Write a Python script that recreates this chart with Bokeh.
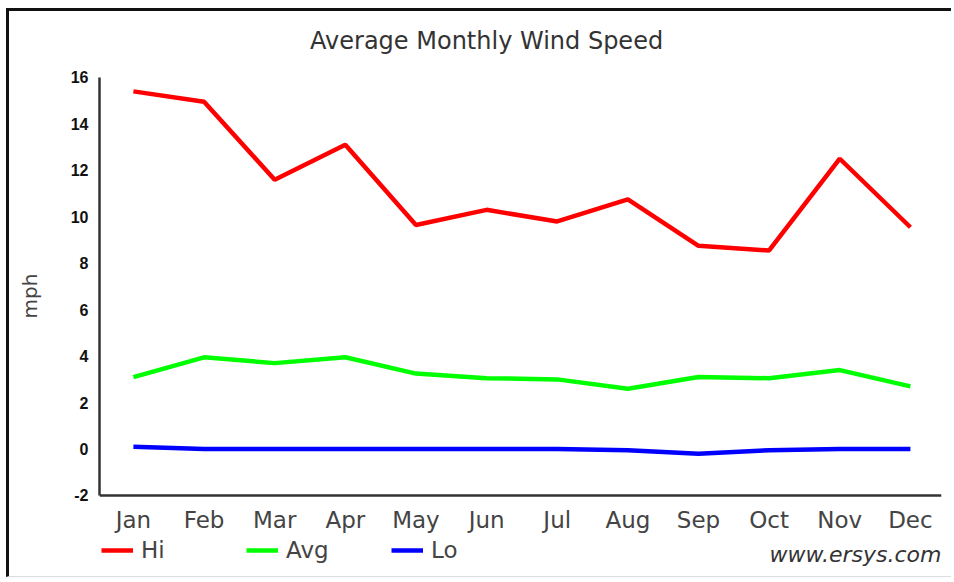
from bokeh.plotting import figure
from bokeh.models import Range1d, FixedTicker, Legend, LegendItem, Label
from bokeh.embed import file_html
from bokeh.resources import INLINE

title_text = "Average Monthly Wind Speed"
months = ["Jan", "Feb", "Mar", "Apr", "May", "Jun", "Jul", "Aug", "Sep", "Oct", "Nov", "Dec"]
hi = [15.4, 14.95, 11.6, 13.1, 9.65, 10.3, 9.8, 10.75, 8.75, 8.55, 12.5, 9.55]
avg = [3.1, 3.95, 3.7, 3.95, 3.25, 3.05, 3.0, 2.6, 3.1, 3.05, 3.4, 2.7]
lo = [0.1, 0.0, 0.0, 0.0, 0.0, 0.0, 0.0, -0.05, -0.2, -0.05, 0.0, 0.0]
y_ticks = [-2, 0, 2, 4, 6, 8, 10, 12, 14, 16]
y_tick_labels = {v: str(v) for v in y_ticks}

x = list(range(len(months)))

p = figure(width=945, height=569, output_backend="svg", toolbar_location=None,
           x_range=Range1d(-0.48, 11.44), y_range=Range1d(-5.66, 18.84),
           min_border_left=90, min_border_right=13, min_border_top=0, min_border_bottom=0)
p.styles = {"position": "relative", "left": "6px", "top": "8px",
            "border-left": "3px solid #111111", "border-top": "3px solid #111111",
            "border-bottom": "1px solid #dddddd"}
p.outline_line_color = None
p.grid.visible = False
p.background_fill_color = "white"
p.border_fill_color = "white"

r_hi = p.line(x, hi, line_color="#ff0000", line_width=4.5)
r_avg = p.line(x, avg, line_color="#00ff00", line_width=4.5)
r_lo = p.line(x, lo, line_color="#0000ff", line_width=4.5)

xa = p.xaxis[0]
xa.fixed_location = -2
xa.ticker = FixedTicker(ticks=x)
xa.major_label_overrides = {i: m for i, m in enumerate(months)}
xa.major_tick_line_color = None
xa.minor_tick_line_color = None
xa.major_tick_out = 0
xa.major_label_standoff = 12
xa.axis_line_color = "#333333"
xa.axis_line_width = 2.5
xa.major_label_text_font = "DejaVu Sans"
xa.major_label_text_font_size = "23px"
xa.major_label_text_color = "#444444"

ya = p.yaxis[0]
ya.bounds = (-2, 16)
ya.ticker = FixedTicker(ticks=y_ticks)
ya.major_label_overrides = y_tick_labels
ya.major_tick_line_color = None
ya.minor_tick_line_color = None
ya.major_tick_out = 0
ya.major_label_standoff = 11
ya.axis_line_color = "#333333"
ya.axis_line_width = 2.5
ya.major_label_text_font = "Liberation Sans"
ya.major_label_text_font_style = "bold"
ya.major_label_text_font_size = "16px"
ya.major_label_text_color = "#111111"
ya.axis_label = "mph"
ya.axis_label_text_font = "DejaVu Sans"
ya.axis_label_text_font_style = "normal"
ya.axis_label_text_font_size = "20px"
ya.axis_label_text_color = "#444444"
ya.axis_label_standoff = 26

title = Label(x=5.0, y=17.55, text=title_text, text_align="center",
              text_baseline="middle", text_font="DejaVu Sans", text_font_size="24px",
              text_color="#333333")
p.add_layout(title)

legend = Legend(items=[LegendItem(label="Hi", renderers=[r_hi]),
                       LegendItem(label="Avg", renderers=[r_avg]),
                       LegendItem(label="Lo", renderers=[r_lo])],
                orientation="horizontal", location=(2, 17),
                glyph_width=32, glyph_height=26, label_standoff=8,
                label_width=105, spacing=0, padding=0, margin=0,
                border_line_color=None, background_fill_alpha=0,
                label_text_font="DejaVu Sans", label_text_font_size="23px",
                label_text_color="#444444")
p.add_layout(legend)

site = Label(x=11.44, y=-4.55, text="www.ersys.com", text_align="right",
             text_baseline="middle", text_font="DejaVu Sans", text_font_size="22px",
             text_font_style="italic", text_color="#333333")
p.add_layout(site)

open("out.html", "w").write(file_html(p, INLINE))
